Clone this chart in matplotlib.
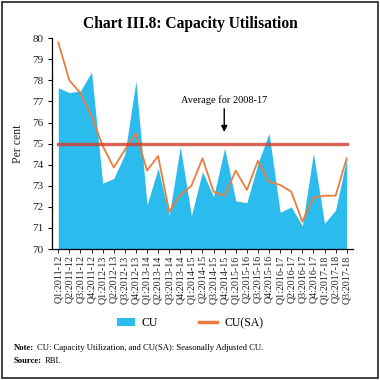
import matplotlib
matplotlib.use("Agg")
import matplotlib.pyplot as plt
from matplotlib.patches import Rectangle
from matplotlib.lines import Line2D
from matplotlib.patches import Patch

# quarters Q1:2011-12 .. Q3:2017-18
years = ["2011-12", "2012-13", "2013-14", "2014-15", "2015-16", "2016-17", "2017-18"]
quarters = [f"Q{q}:{y}" for y in years for q in range(1, 5)][:27]

cu = [77.65, 77.42, 77.5, 78.4, 73.12, 73.35, 74.5, 77.97, 72.09, 73.83,
      71.6, 74.85, 71.58, 73.67, 72.48, 74.78, 72.28, 72.2, 74.06, 75.49,
      71.74, 72.0, 71.1, 74.54, 71.22, 71.85, 74.3]
cu_sa = [79.8, 78.0, 77.4, 76.3, 74.9, 73.87, 74.7, 75.49, 73.72, 74.41,
         71.77, 72.56, 73.0, 74.3, 72.72, 72.53, 73.72, 72.8, 74.19, 73.19,
         73.04, 72.72, 71.3, 72.44, 72.53, 72.53, 74.3]
avg_2008_17 = 75.0

blue = "#2bbbec"
orange = "#ea7d3c"
red = "#d63a2a"
serif = ["Liberation Serif", "DejaVu Serif"]

plt.rcParams["font.family"] = serif

fig = plt.figure(figsize=(3.8, 3.8), dpi=100)
ax = fig.add_axes([0.1376, 0.3447, 0.7914, 0.5546])

x = list(range(len(quarters)))
ax.fill_between(x, 70, cu, color=blue, linewidth=0, zorder=1)
ax.plot(x, cu_sa, color=orange, linewidth=1.3, zorder=3)
ax.plot([x[0], x[-1]], [avg_2008_17, avg_2008_17], color=red, linewidth=2.4,
        alpha=0.8, zorder=4)

ax.set_xlim(-0.54, 26.57)
ax.set_ylim(70, 80)
ax.set_yticks(range(70, 81))
ax.set_xticks(x)
ax.set_xticklabels(quarters, rotation=90, fontsize=7.2, color="#222222")
ax.tick_params(axis="y", labelsize=8, length=3, width=0.8, direction="out",
               labelcolor="#222222")
ax.tick_params(axis="x", length=3, width=0.6, direction="out", pad=1.5)
for s in ["top", "right"]:
    ax.spines[s].set_visible(False)
ax.spines["left"].set_linewidth(0.9)
ax.spines["bottom"].set_linewidth(0.9)
ax.set_ylabel("Per cent", fontsize=8.5, labelpad=6, color="#222222")

ax.annotate("Average for 2008-17", xy=(14.96, 75.55), xytext=(14.96, 76.85),
            ha="center", va="bottom", fontsize=7.5,
            arrowprops=dict(arrowstyle="-|>", color="black", lw=1.0,
                            mutation_scale=9, shrinkA=1, shrinkB=0))

handles = [Patch(facecolor=blue, edgecolor="none"),
           Line2D([0], [0], color=orange, linewidth=2.5)]
fig.legend(handles, ["CU", "CU(SA)"], loc="center", bbox_to_anchor=(0.5, 0.15),
           ncol=2, frameon=False, fontsize=8.5, handlelength=1.5,
           handleheight=0.7, columnspacing=3.5, handletextpad=0.6)

fig.text(0.5, 0.937, "Chart III.8: Capacity Utilisation", ha="center",
         va="center", fontsize=11.2, fontweight="bold")

fig.text(0.037, 0.084, "Note:", fontsize=6.2, fontweight="bold", va="center")
fig.text(0.098, 0.084, "CU: Capacity Utilization, and CU(SA): Seasonally Adjusted CU.",
         fontsize=6.2, va="center")
fig.text(0.037, 0.05, "Source:", fontsize=6.2, fontweight="bold", va="center")
fig.text(0.118, 0.05, "RBI.", fontsize=6.2, va="center")

fig.patches.append(Rectangle((0.005, 0.005), 0.99, 0.99, transform=fig.transFigure,
                             fill=False, edgecolor="#222222", linewidth=1.2))

fig.savefig("out.png", dpi=100)
